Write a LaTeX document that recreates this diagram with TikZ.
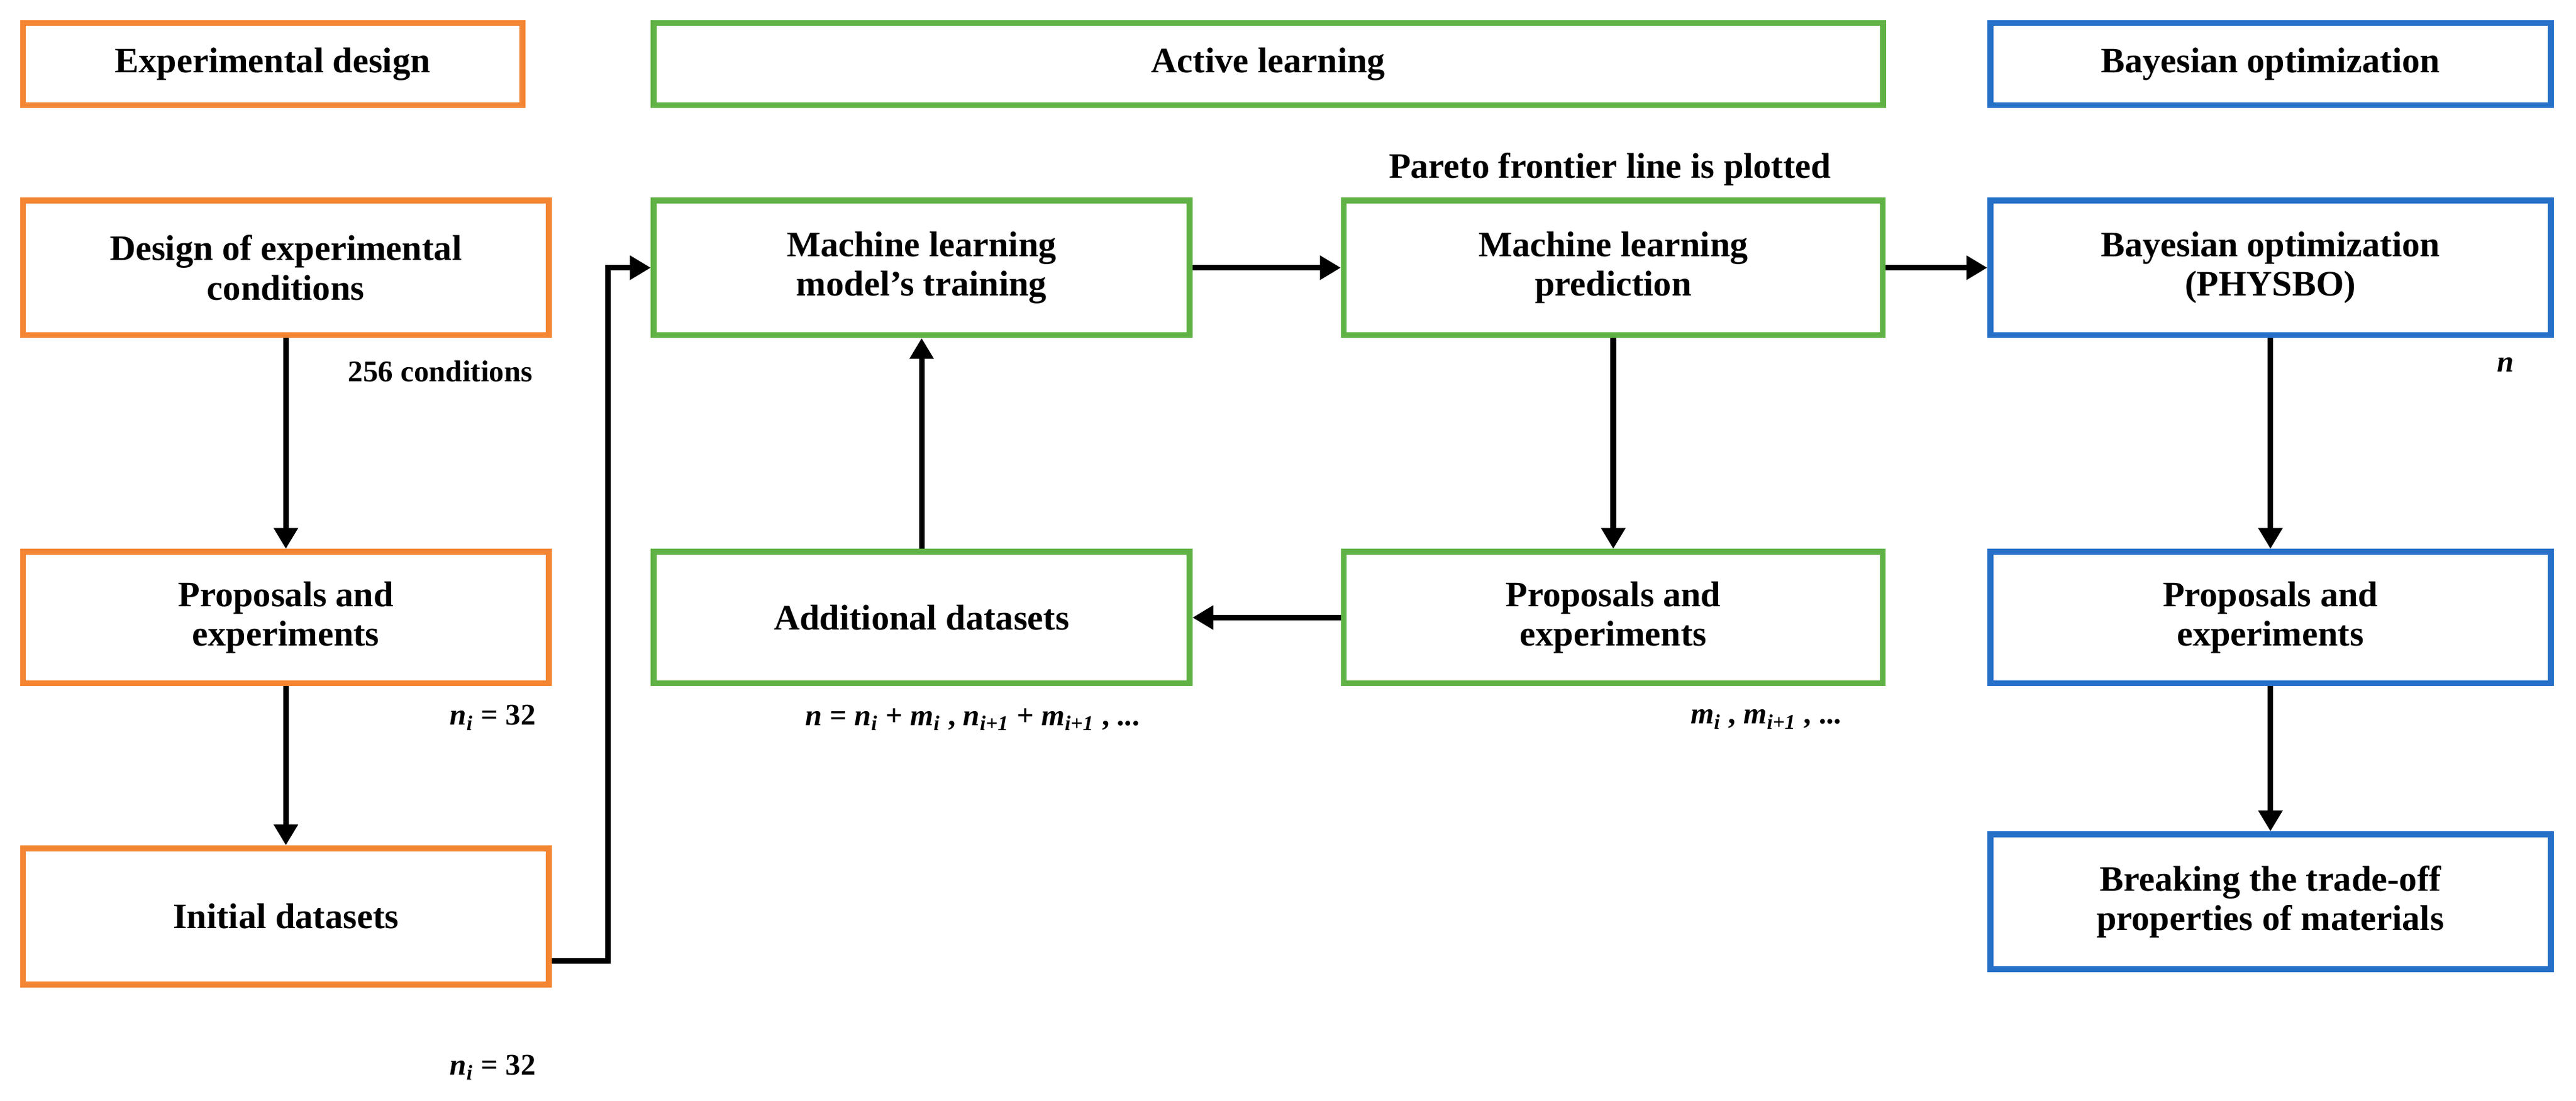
\documentclass[tikz,border=0pt]{standalone}
\usepackage{fontspec}
\setmainfont{Liberation Serif}
\definecolor{orng}{RGB}{243,133,51}
\definecolor{grn}{RGB}{96,178,69}
\definecolor{blu}{RGB}{38,112,200}
\newcommand{\vsub}[2]{\textit{#1}\textsubscript{\textit{#2}}}
\tikzset{
  box/.style={draw, line width=2.6pt, align=center, inner sep=0pt,
    font=\fontsize{15.5}{17}\selectfont\bfseries},
  lbl/.style={font=\fontsize{13}{15}\selectfont\bfseries},
  arr/.style={line width=2.4pt, -{Triangle[length=9pt,width=10pt]}}
}
\usetikzlibrary{arrows.meta}
\begin{document}
\begin{tikzpicture}[x=0.025cm,y=-0.025cm]
		\useasboundingbox (0,0) rectangle (1568,670);
		% headers
		\node [box, draw=orng, minimum width=304*0.25mm, minimum height=50*0.25mm] (hexp) at (166,39) {Experimental design};
		\node [box, draw=grn, minimum width=748*0.25mm, minimum height=50*0.25mm] (hal) at (772,39) {Active learning};
		\node [box, draw=blu, minimum width=341*0.25mm, minimum height=50*0.25mm] (hbo) at (1382,39) {Bayesian optimization};

		% first column
		\node [box, draw=orng, minimum width=320*0.25mm, minimum height=82*0.25mm] (design) at (174,163) {Design of experimental\\conditions};
		\node [box, draw=orng, minimum width=320*0.25mm, minimum height=80*0.25mm] (prop1) at (174,376) {Proposals and\\experiments};
		\node [box, draw=orng, minimum width=320*0.25mm, minimum height=83*0.25mm] (init) at (174,558) {Initial datasets};

		% active learning
		\node [box, draw=grn, minimum width=326*0.25mm, minimum height=82*0.25mm] (train) at (561,163) {Machine learning\\model’s training};
		\node [box, draw=grn, minimum width=328*0.25mm, minimum height=82*0.25mm] (pred) at (982,163) {Machine learning\\prediction};
		\node [box, draw=grn, minimum width=326*0.25mm, minimum height=80*0.25mm] (add) at (561,376) {Additional datasets};
		\node [box, draw=grn, minimum width=328*0.25mm, minimum height=80*0.25mm] (prop2) at (982,376) {Proposals and\\experiments};

		% bayesian optimization
		\node [box, draw=blu, minimum width=341*0.25mm, minimum height=82*0.25mm] (bo) at (1382,163) {Bayesian optimization\\(PHYSBO)};
		\node [box, draw=blu, minimum width=341*0.25mm, minimum height=80*0.25mm] (prop3) at (1382,376) {Proposals and\\experiments};
		\node [box, draw=blu, minimum width=341*0.25mm, minimum height=82*0.25mm] (brk) at (1382,549) {Breaking the trade-off\\properties of materials};

		\coordinate (bend1) at (370,585);
		\coordinate (bend2) at (370,163);

		\draw [arr] (design) -- (prop1);
		\draw [arr] (prop1) -- (init);
		\draw [arr] (init.east |- bend1) -- (bend1) -- (bend2) -- (train);
		\draw [arr] (train) -- (pred);
		\draw [arr] (pred) -- (bo);
		\draw [arr] (pred) -- (prop2);
		\draw [arr] (prop2) -- (add);
		\draw [arr] (add) -- (train);
		\draw [arr] (bo) -- (prop3);
		\draw [arr] (prop3) -- (brk);

		% labels
		\node [lbl] (l256) at (268,226) {256 conditions};
		\node [lbl] (ni1) at (300,437) {\vsub{n}{i} = 32};
		\node [lbl] (ni2) at (300,650) {\vsub{n}{i} = 32};
		\node [lbl] (nsum) at (592,438) {\textit{n} = \vsub{n}{i} + \vsub{m}{i} , \vsub{n}{i+1} + \vsub{m}{i+1} , ...};
		\node [lbl] (msum) at (1075,438) {\vsub{m}{i} , \vsub{m}{i+1} , ...};
		\node [lbl] (nn) at (1525,222) {\textit{n}};
		\node [box, draw=none] (pareto) at (980,103) {Pareto frontier line is plotted};

	\end{tikzpicture}
\end{document}
